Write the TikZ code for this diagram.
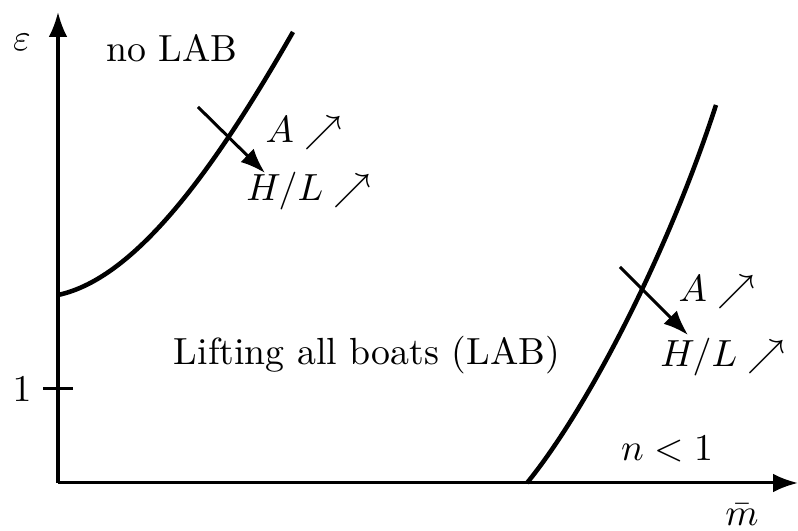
\documentclass[tikz,border=0pt]{standalone}
\usetikzlibrary{arrows.meta}
\tikzset{
  axis/.style={-Latex, thick},
  boundary/.style={very thick},
  crossarrow/.style={-Latex, thick},
  lbl/.style={inner sep=1pt},
}

\begin{document}
\begin{tikzpicture}[x=0.93cm, y=0.93cm]
  \useasboundingbox (-0.58,-0.48) rectangle (7.40,4.83);

  % axes
  \coordinate (o) at (0,0);
  \coordinate (ytop) at (0,4.71);
  \coordinate (xend) at (7.40,0);
  \draw[axis] (o) -- (ytop);
  \draw[axis] (o) -- (xend);
  \node[lbl] (eps) at (-0.36,4.41) {$\varepsilon$};
  \node[lbl] (mbar) at (6.84,-0.32) {$\bar m$};

  % tick at 1
  \coordinate (tl) at (-0.15,0.94);
  \coordinate (tr) at (0.15,0.94);
  \draw[thick] (tl) -- (tr);
  \node[lbl] (one) at (-0.36,0.94) {$1$};

  % boundaries
  \coordinate (la) at (0,1.88);
  \coordinate (lb) at (2.35,4.51);
  \draw[boundary] (la) .. controls (0.8,2.05) and (1.6,3.2) .. (lb);
  \coordinate (ra) at (4.69,0);
  \coordinate (rb) at (6.58,3.78);
  \draw[boundary] (ra) .. controls (5.3,0.75) and (6.1,2.3) .. (rb);

  % shifts of the boundaries
  \coordinate (s1) at (1.40,3.76);
  \coordinate (e1) at (2.07,3.10);
  \draw[crossarrow] (s1) -- (e1);
  \coordinate (s2) at (5.62,2.16);
  \coordinate (e2) at (6.30,1.48);
  \draw[crossarrow] (s2) -- (e2);

  % regions
  \node[lbl] (nolab) at (1.14,4.35) {no LAB};
  \node[lbl] (lab) at (3.09,1.28) {Lifting all boats (LAB)};
  \node[lbl] (nless) at (6.09,0.34) {$n<1$};

  \node[lbl] (a1) at (2.46,3.50) {$A\nearrow$};
  \node[lbl] (hl1) at (2.51,2.92) {$H/L\nearrow$};
  \node[lbl] (a2) at (6.59,1.91) {$A\nearrow$};
  \node[lbl] (hl2) at (6.65,1.26) {$H/L\nearrow$};
\end{tikzpicture}
\end{document}
